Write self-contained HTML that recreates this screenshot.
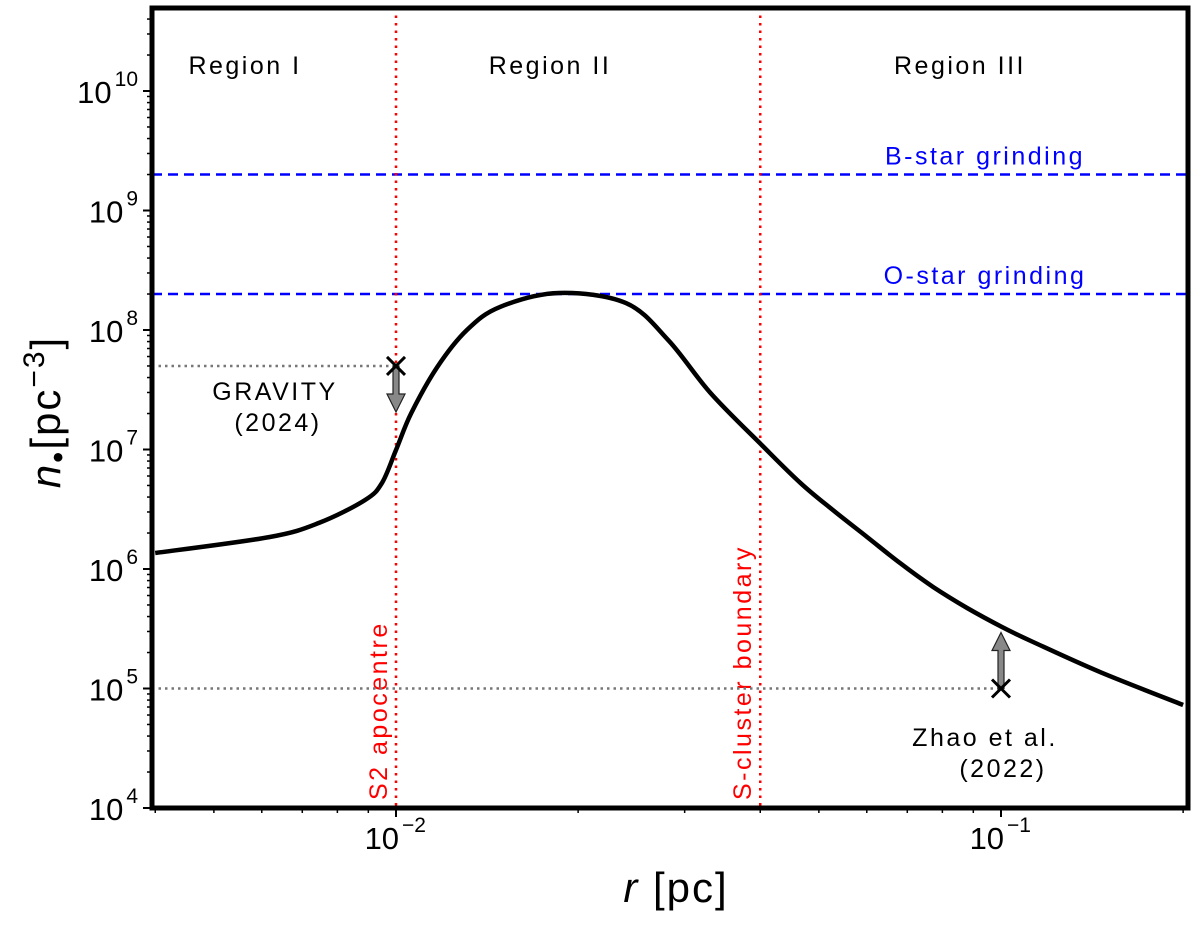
<!DOCTYPE html>
<html><head><meta charset="utf-8"><style>
html,body{margin:0;padding:0;background:#fff}
svg text{font-family:"Liberation Sans",sans-serif}
</style></head><body>
<svg id="chart" width="1200" height="922" viewBox="0 0 1200 922" xmlns="http://www.w3.org/2000/svg">
<g id="layer"></g>
</svg>
<script>
const rVals=[0.0040,0.00617,0.00746,0.00889,0.00948,0.0100,0.0106,0.0117,0.0131,0.01486,0.01859,0.0240,0.0282,0.0331,0.0403,0.0466,0.0527,0.0601,0.0681,0.0773,0.0879,0.1004,0.113,0.146,0.2];
const nVals=[1.36e6,1.85e6,2.43e6,3.78e6,5.25e6,9.9e6,2.02e7,4.9e7,1.0e8,1.56e8,2.04e8,1.68e8,8.2e7,2.97e7,1.08e7,5.25e6,3.12e6,1.85e6,1.12e6,7.06e5,4.72e5,3.27e5,2.45e5,1.37e5,7.28e4];
const yTickExps=[4,5,6,7,8,9,10];
const xTickExps=[-2,-1];
const grindLevels=[2e9,2e8];
const grindLabels=["B-star grinding","O-star grinding"];
const vLines=[0.01,0.04];
const vLabels=["S2 apocentre","S-cluster boundary"];
const obsR=[0.01,0.1];
const obsN=[5e7,1e5];
const obsDir=[-1,1];

const NS="http://www.w3.org/2000/svg";
const L=152,R=1188,T=8,B=808;
const X=r=>396+(Math.log10(r)+2)*605;
const Y=n=>808-(Math.log10(n)-4)*119.5;
const g=document.getElementById('layer');
function mk(tag,attrs,parent){const e=document.createElementNS(NS,tag);for(const k in attrs)e.setAttribute(k,attrs[k]);(parent||g).appendChild(e);return e;}
const LS='2.5';

const defs=mk('defs',{});
const cp=mk('clipPath',{id:'clip'},defs);mk('rect',{x:L,y:T,width:R-L,height:B-T},cp);

grindLevels.forEach((v,i)=>{
 const l=mk('line',{x1:L,x2:R,y1:Y(v),y2:Y(v),stroke:'#0000ff','stroke-width':2.5,'stroke-dasharray':'10,6'});
 
 
 const t=mk('text',{x:985,y:Y(v)-10,'font-size':25,fill:'#0000ff','text-anchor':'middle','letter-spacing':LS});
 t.textContent=grindLabels[i];
 
 
});
vLines.forEach((v,i)=>{
 const l=mk('line',{x1:X(v),x2:X(v),y1:T,y2:B,stroke:'#ff0000','stroke-width':2.5,'stroke-dasharray':'2.5,5'});
 
 
 const t=mk('text',{x:0,y:0,'font-size':25,fill:'#ff0000','text-anchor':'start','letter-spacing':LS,transform:`translate(${X(v)-9},800) rotate(-90)`});
 t.textContent=vLabels[i];
 
 
});
obsR.forEach((r,i)=>{
 const x=X(r),y=Y(obsN[i]);
 const l=mk('line',{x1:L,x2:x,y1:y,y2:y,stroke:'#777','stroke-width':2.5,'stroke-dasharray':'2.5,4'});
 
 
 const d=obsDir[i];
 const ty=d<0?y+46:y-56;
 const hb=ty+(d<0?-18:18);
 const a=mk('path',{d:`M${x-3},${y} L${x-3},${hb} L${x-9},${hb} L${x},${ty} L${x+9},${hb} L${x+3},${hb} L${x+3},${y} Z`,fill:'#888',stroke:'#222','stroke-width':1.2});
 
 
 const m=mk('path',{d:`M${x-9},${y-9} L${x+9},${y+9} M${x-9},${y+9} L${x+9},${y-9}`,stroke:'#000','stroke-width':3});
 
 
});
const P=rVals.map((r,i)=>[X(r),Y(nVals[i])]);
let dstr=`M${P[0][0].toFixed(1)},${P[0][1].toFixed(1)}`;
for(let i=0;i<P.length-1;i++){
 const p0=P[Math.max(0,i-1)],p1=P[i],p2=P[i+1],p3=P[Math.min(P.length-1,i+2)];
 const c1=[p1[0]+(p2[0]-p0[0])/6,p1[1]+(p2[1]-p0[1])/6];
 const c2=[p2[0]-(p3[0]-p1[0])/6,p2[1]-(p3[1]-p1[1])/6];
 dstr+=` C${c1[0].toFixed(1)},${c1[1].toFixed(1)} ${c2[0].toFixed(1)},${c2[1].toFixed(1)} ${p2[0].toFixed(1)},${p2[1].toFixed(1)}`;
}
const c=mk('path',{d:dstr,fill:'none',stroke:'#000','stroke-width':4.5,'stroke-linejoin':'round','clip-path':'url(#clip)'});



for(const e of yTickExps){
 const y=Y(Math.pow(10,e));
 mk('line',{x1:L-9,x2:L,y1:y,y2:y,stroke:'#000','stroke-width':2});
 const t=mk('text',{x:138,y:y+12,'font-size':31,'text-anchor':'end'});
 t.textContent='10';
 const s=mk('tspan',{dx:3,dy:-17,'font-size':21},t);s.textContent=String(e);
 
 
 if(e<10)for(let k=2;k<10;k++){const yy=Y(k*Math.pow(10,e));mk('line',{x1:L-5,x2:L,y1:yy,y2:yy,stroke:'#000','stroke-width':1.5});}
}
for(let k=2;k<10;k++){const yy=Y(k*1e10);if(yy>T)mk('line',{x1:L-5,x2:L,y1:yy,y2:yy,stroke:'#000','stroke-width':1.5});}
for(const e of xTickExps){
 const x=X(Math.pow(10,e));
 mk('line',{x1:x,x2:x,y1:B,y2:B+9,stroke:'#000','stroke-width':2});
 const t=mk('text',{x:x+30,y:849,'font-size':31,'text-anchor':'end'});
 t.textContent='10';
 const s=mk('tspan',{dx:3,dy:-17,'font-size':21},t);s.textContent='\u2212'+String(-e);
 
 
}
for(const e of [-3,-2,-1])for(let k=2;k<10;k++){const x=X(k*Math.pow(10,e));if(x>=L&&x<=R)mk('line',{x1:x,x2:x,y1:B,y2:B+5,stroke:'#000','stroke-width':1.5});}
const fr=mk('rect',{x:L,y:T,width:R-L,height:B-T,fill:'none',stroke:'#000','stroke-width':5});



function txt(x,y,s,size,name){const t=mk('text',{x:x,y:y,'font-size':size,'text-anchor':'middle','letter-spacing':LS});t.textContent=s;return t;}
txt(245,74,'Region I',25,'region-1-label');
txt(550,74,'Region II',25,'region-2-label');
txt(960,74,'Region III',25,'region-3-label');
txt(275,400,'GRAVITY',25,'gravity-label');
txt(278,431,'(2024)',25,'gravity-year-label');
txt(985,746,'Zhao et al.',25,'zhao-label');
txt(1003,777,'(2022)',25,'zhao-year-label');
const xt=mk('text',{x:676,y:902,'font-size':42,'text-anchor':'middle','letter-spacing':'2'});
xt.innerHTML='<tspan font-style="italic">r</tspan> [pc]';


const yt=mk('text',{x:0,y:0,'font-size':42,'text-anchor':'middle','letter-spacing':'2',transform:'translate(60,412) rotate(-90)'});
yt.innerHTML='<tspan font-style="italic">n</tspan><tspan font-size="32" dy="9">\u2022</tspan><tspan dy="-9">[pc</tspan><tspan font-size="30" dy="-16">\u22123</tspan><tspan dy="16">]</tspan>';


</script>
</body></html>
